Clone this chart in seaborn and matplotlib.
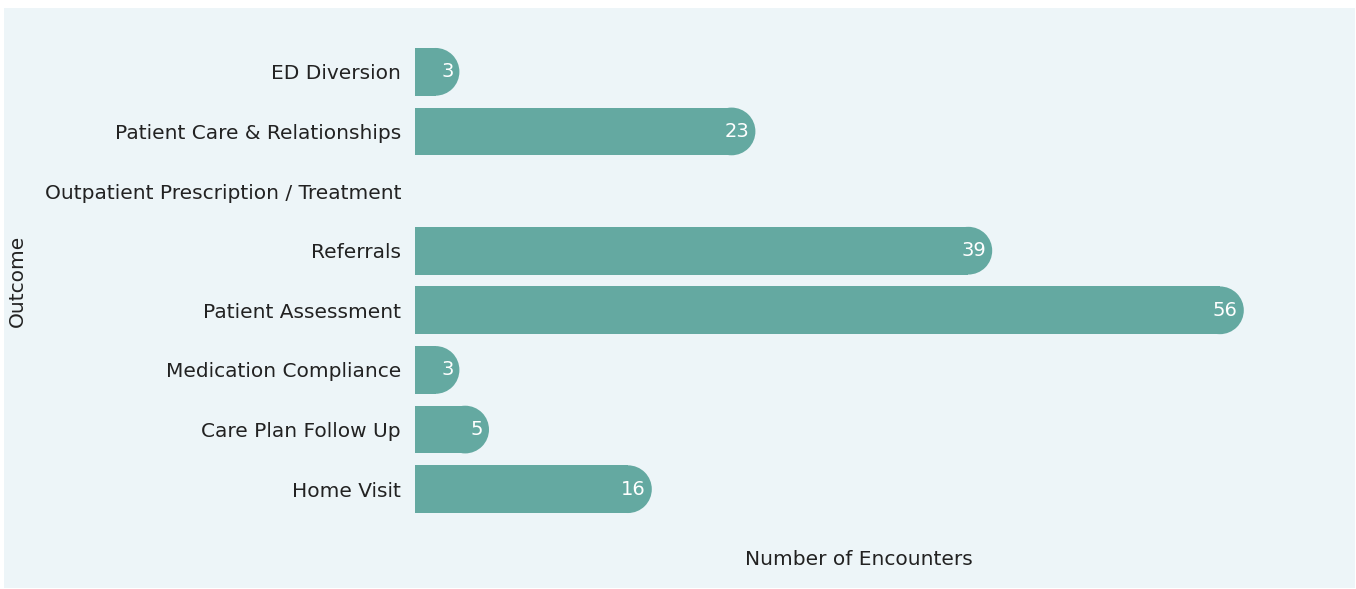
import matplotlib
matplotlib.use("Agg")
import matplotlib.pyplot as plt
from matplotlib.patches import Rectangle, Ellipse
import seaborn as sns
import pandas as pd

outcomes = ["ED Diversion", "Patient Care & Relationships",
            "Outpatient Prescription / Treatment", "Referrals",
            "Patient Assessment", "Medication Compliance",
            "Care Plan Follow Up", "Home Visit"]
encounters = [3, 23, 0, 39, 56, 3, 5, 16]

BG = "#EDF5F8"
BAR = "#64A9A1"
TXT = "#222222"
FONT = ["DejaVu Sans"]
FS = 14.5

sns.set_theme(style="white")
plt.rcParams["font.family"] = FONT

df = pd.DataFrame({"Outcome": outcomes, "Number of Encounters": encounters})

fig = plt.figure(figsize=(13.56, 5.89), dpi=100, facecolor="white")
fig.patches.append(Rectangle((4 / 1356, 1 - 588 / 589), 1351 / 1356, 580 / 589,
                             transform=fig.transFigure, facecolor=BG,
                             edgecolor="none", zorder=-10))
ax = fig.add_axes([415 / 1356, 1 - 519 / 589, 888 / 1356, 477 / 589])
ax.set_facecolor(BG)

sns.barplot(data=df, y="Outcome", x="Number of Encounters", color=BAR,
            saturation=1, width=0.8, orient="h", ax=ax, linewidth=0)
ax.set_xlim(0, 60)

# round the right ends of bars
fig.canvas.draw()
px_per_unit_x = ax.transData.transform((1, 0))[0] - ax.transData.transform((0, 0))[0]
px_per_unit_y = abs(ax.transData.transform((0, 1))[1] - ax.transData.transform((0, 0))[1])
for p in list(ax.patches):
    p.set_edgecolor("none")
    p.set_linewidth(0)
    w = p.get_width()
    if w <= 0:
        p.set_visible(False)
        continue
    h = p.get_height()
    y = p.get_y()
    r_px = h * px_per_unit_y / 2
    rx = r_px / px_per_unit_x
    p.set_width(max(w - rx, 0))
    ax.add_patch(Ellipse((w - rx, y + h / 2), 2 * rx, h, facecolor=BAR,
                         edgecolor="none", linewidth=0, zorder=p.get_zorder()))

for i, v in enumerate(encounters):
    if v > 0:
        ax.annotate(str(v), xy=(v, i), xytext=(-4.3, 0),
                    textcoords="offset points", ha="right", va="center",
                    color="white", fontsize=FS - 0.5)

for s in ax.spines.values():
    s.set_visible(False)
ax.set_xticks([])
ax.tick_params(axis="y", length=0, pad=10, labelsize=FS, labelcolor=TXT)
ax.set_xlabel("Number of Encounters", fontsize=FS, color=TXT)
ax.set_ylabel("Outcome", fontsize=FS, color=TXT)
ax.xaxis.set_label_coords(0.5, (519 - 550) / 477)
ax.yaxis.set_label_coords((27 - 415) / 888, 0.5)

fig.savefig("out.png", dpi=100, facecolor="white")
